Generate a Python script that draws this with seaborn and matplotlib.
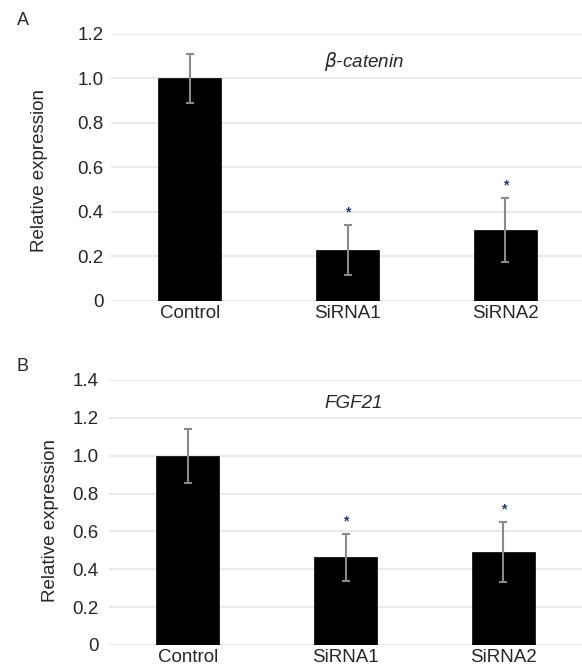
"""
Relative expression of beta-catenin and FGF21 after siRNA knockdown.
"""

import matplotlib

matplotlib.use("Agg")

import matplotlib.pyplot as plt
import pandas as pd
import seaborn as sns
from matplotlib.ticker import FuncFormatter

groups = ["Control", "SiRNA1", "SiRNA2"]

catenin_mean = [1.0, 0.228, 0.318]
catenin_err = [0.11, 0.114, 0.145]
catenin_sig = [False, True, True]

fgf21_mean = [1.0, 0.463, 0.493]
fgf21_err = [0.142, 0.125, 0.158]
fgf21_sig = [False, True, True]


def fmt_tick(v, _pos):
    return "0" if abs(v) < 1e-9 else f"{v:.1f}"


def draw_panel(ax, means, errs, sig, title, title_xy, ymax, ytick_pad):
    df = pd.DataFrame({"Group": groups, "Expression": means})
    sns.barplot(data=df, x="Group", y="Expression", color="black",
                width=0.4, errorbar=None, saturation=1, ax=ax, zorder=2)
    for p in ax.patches:
        p.set_edgecolor("black")
        p.set_linewidth(0.5)
    ax.errorbar(range(len(groups)), means, yerr=errs, fmt="none",
                ecolor="#8a8a8a", elinewidth=1.5, capsize=3, capthick=1.5,
                zorder=3)
    for i, (m, e, s) in enumerate(zip(means, errs, sig)):
        if s:
            ax.annotate("*", (i, m + e), xytext=(0, 4),
                        textcoords="offset points", ha="center", va="bottom",
                        fontsize=10, color="#1f3d6b", fontweight="bold")
    ax.text(title_xy[0], title_xy[1], title, ha="center", va="center",
            fontsize=13.5, style="italic")
    ax.set_xlim(-0.5, 2.5)
    ax.set_ylim(0, ymax)
    ax.set_yticks([round(0.2 * k, 1) for k in range(int(round(ymax / 0.2)) + 1)])
    ax.yaxis.set_major_formatter(FuncFormatter(fmt_tick))
    ax.set_xlabel("")
    ax.set_ylabel("Relative expression", fontsize=13.5)
    ax.grid(axis="y", color="#e8e8e8", linewidth=1.3, zorder=0)
    ax.grid(axis="x", visible=False)
    ax.set_axisbelow(True)
    for sp in ax.spines.values():
        sp.set_visible(False)
    ax.tick_params(axis="both", length=0, labelsize=13.5)
    ax.tick_params(axis="x", pad=3)
    ax.tick_params(axis="y", pad=ytick_pad)


def main():
    sns.set_theme(style="whitegrid")
    plt.rcParams["font.family"] = ["Liberation Sans", "DejaVu Sans"]

    fig = plt.figure(figsize=(5.82, 6.69), dpi=100)
    ax_a = fig.add_axes([0.1907, 0.5505, 0.8134, 0.3987])
    ax_b = fig.add_axes([0.1873, 0.0359, 0.8128, 0.3961])

    draw_panel(ax_a, catenin_mean, catenin_err, catenin_sig,
               r"$\beta$-catenin", (1.1, 1.075), 1.2, 5.5)
    draw_panel(ax_b, fgf21_mean, fgf21_err, fgf21_sig,
               "FGF21", (1.05, 1.278), 1.4, 7.5)

    ax_a.yaxis.set_label_coords(-0.133, 0.49)
    ax_b.yaxis.set_label_coords(-0.106, 0.47)

    fig.text(22.5 / 582, 1 - 20.5 / 669, "A", fontsize=13,
             ha="center", va="center")
    fig.text(23 / 582, 1 - 366.7 / 669, "B", fontsize=13,
             ha="center", va="center")

    fig.savefig("out.png", dpi=100)


if __name__ == "__main__":
    main()
